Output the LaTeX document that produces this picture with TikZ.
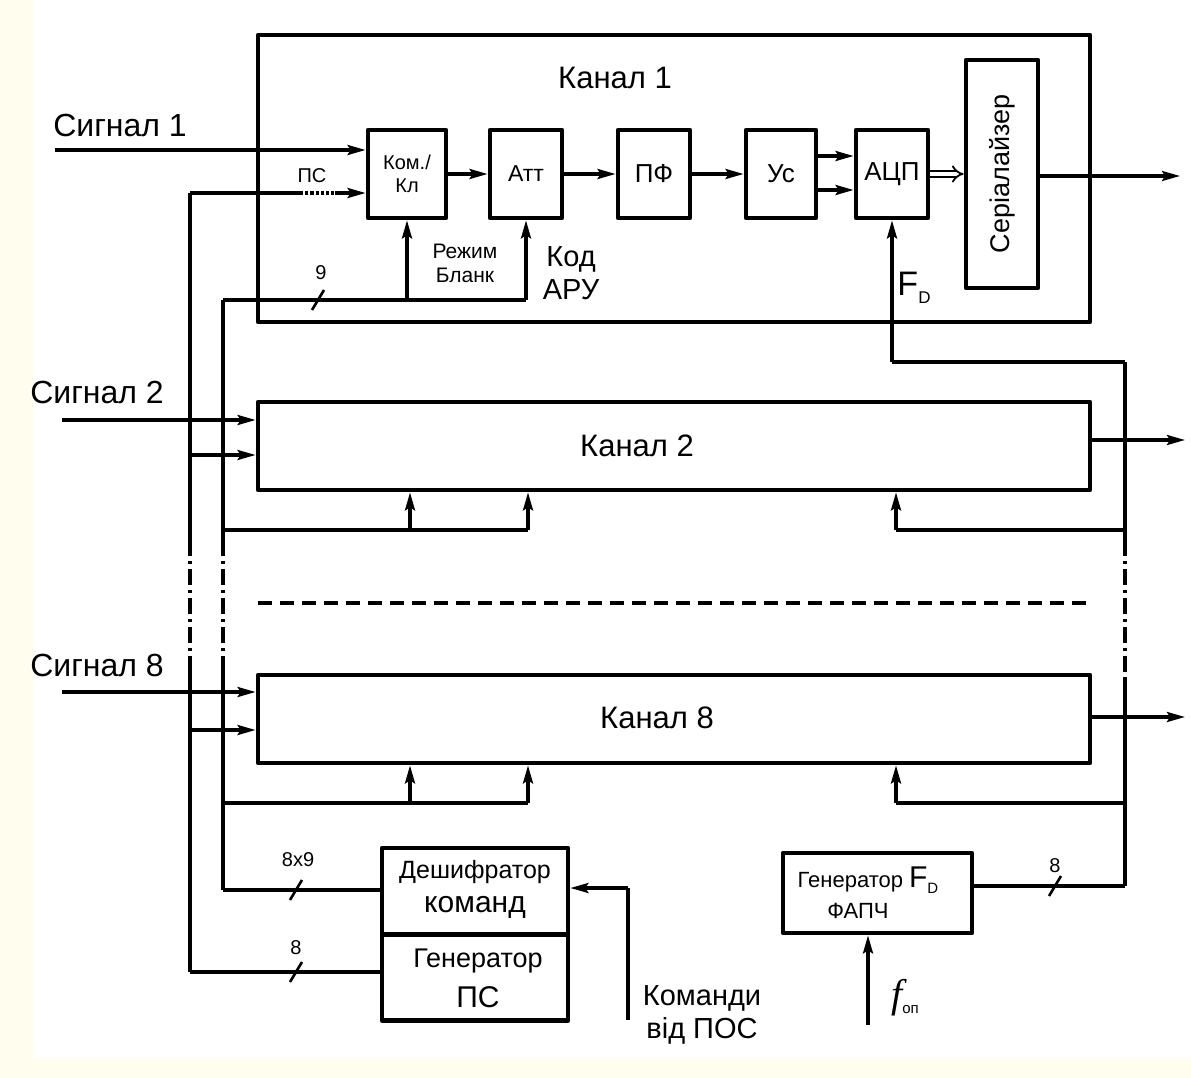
\documentclass[tikz,border=0pt]{standalone}
\usepackage{fontspec}
\setmainfont{Liberation Sans}
\newfontfamily\serifit{Liberation Serif}
\usetikzlibrary{arrows.meta}
\definecolor{tlo}{RGB}{255,253,238}
\newcommand{\fsz}[1]{\fontsize{#1}{1.15\dimexpr #1\relax}\selectfont}
\tikzset{
  blok/.style={draw, line width=4.8pt, inner sep=0pt, align=center},
  zv/.style={line width=3.2pt},
  strl/.style={zv, -{Stealth[length=18pt,width=10pt,inset=3pt]}},
  shtrih/.style={line width=2.6pt},
  shp/.style={zv, dash pattern=on 16pt off 5pt on 3pt off 5pt},
  napys/.style={inner sep=0pt, align=center}
}
\begin{document}
\begin{tikzpicture}[x=1pt, y=-1pt, line join=round, >=stealth]
\fill[tlo] (0,0) rectangle (1191,1078);
\fill[white] (33,0) rectangle (1191,1058);
\useasboundingbox (0,0) rectangle (1191,1078);
% kanal 1
\node[blok, minimum width=832, minimum height=287] (kan1) at (674,178.5) {};
\node[napys, font=\fsz{31pt}] at (615,78) {Канал 1};
\node[blok, minimum width=78, minimum height=88, font=\fsz{20pt}] (kom) at (407,174) {Ком./\\Кл};
\node[blok, minimum width=72, minimum height=88, font=\fsz{23pt}] (att) at (526,174) {Атт};
\node[blok, minimum width=72, minimum height=88, font=\fsz{26pt}] (pf) at (654,174) {ПФ};
\node[blok, minimum width=70, minimum height=88, font=\fsz{26pt}] (us) at (781,174) {Ус};
\node[blok, minimum width=72, minimum height=88, font=\fsz{26pt}] (acp) at (892,174) {АЦП};
\node[blok, minimum width=72, minimum height=228] (ser) at (1002,174) {};
\node[napys, rotate=90, font=\fsz{27pt}] at (ser.center) {Серіалайзер};
\draw[strl] (kom.east) -- (att.west);
\draw[strl] (att.east) -- (pf.west);
\draw[strl] (pf.east) -- (us.west);
\draw[strl] (us.east |- 0,156) -- (acp.west |- 0,156);
\draw[strl] (us.east |- 0,190) -- (acp.west |- 0,190);
\draw[line width=1.8pt, double distance=4pt, -{Implies}] (acp.east) -- (ser.west);
\coordinate (vyh1) at (1180,176);
\draw[strl] (ser.east |- vyh1) -- (vyh1);
% vhody kanalu 1
\coordinate (sg1) at (55,150);
\draw[strl] (sg1) -- (kom.west |- sg1);
\node[napys, font=\fsz{32pt}] at (120,125) {Сигнал 1};
\coordinate (ps) at (190,193);
\coordinate (ps1) at (300,193);
\coordinate (ps2) at (335,193);
\draw[zv] (ps) -- (ps1);
\draw[zv, dotted] (ps1) -- (ps2);
\draw[strl] (ps2) -- (kom.west |- ps2);
\node[napys, font=\fsz{20pt}] at (312,176) {ПС};
% keruvannia kanalu 1
\coordinate (k1) at (223,300);
\coordinate (k1a) at (kom.south |- k1);
\coordinate (k1b) at (att.south |- k1);
\draw[zv] (k1) -- (k1b);
\draw[strl] (k1a) -- (kom.south);
\draw[strl] (k1b) -- (att.south);
\draw[shtrih] (312,310) -- (324,290);
\node[napys, font=\fsz{20pt}] at (321,273) {9};
\node[napys, font=\fsz{21pt}] at (465,263) {Режим\\Бланк};
\node[napys, font=\fsz{29pt}] at (571,273) {Код\\АРУ};
% F_D
\coordinate (fd1) at (1125,362);
\coordinate (fd2) at (acp.south |- fd1);
\draw[zv] (fd1) -- (fd2);
\draw[strl] (fd2) -- (acp.south);
\node[napys, font=\fsz{34pt}] at (914,288) {F\raisebox{-8pt}{\fsz{17pt}D}};
% kanal 2
\node[blok, minimum width=832, minimum height=88] (kan2) at (674,446) {};
\node[napys, font=\fsz{31pt}] at (637,446) {Канал 2};
\coordinate (sg2) at (62,420);
\draw[strl] (sg2) -- (kan2.west |- sg2);
\node[napys, font=\fsz{32pt}] at (97,392) {Сигнал 2};
\coordinate (ps2k) at (190,455);
\draw[strl] (ps2k) -- (kan2.west |- ps2k);
\coordinate (k2) at (223,530);
\coordinate (k2a) at (410,530);
\coordinate (k2b) at (528,530);
\draw[zv] (k2) -- (k2b);
\draw[strl] (k2a) -- (kan2.south -| k2a);
\draw[strl] (k2b) -- (kan2.south -| k2b);
\coordinate (f2) at (1125,530);
\coordinate (f2a) at (896,530);
\draw[zv] (f2) -- (f2a);
\draw[strl] (f2a) -- (kan2.south -| f2a);
\coordinate (vyh2) at (1185,440);
\draw[strl] (kan2.east |- vyh2) -- (vyh2);
% propushcheni kanaly
\draw[line width=4pt, dash pattern=on 14pt off 8pt] (258,603) -- (1090,603);
% kanal 8
\node[blok, minimum width=832, minimum height=88] (kan8) at (674,719) {};
\node[napys, font=\fsz{31pt}] at (657,718) {Канал 8};
\coordinate (sg8) at (62,692);
\draw[strl] (sg8) -- (kan8.west |- sg8);
\node[napys, font=\fsz{32pt}] at (97,665) {Сигнал 8};
\coordinate (ps8k) at (190,730);
\draw[strl] (ps8k) -- (kan8.west |- ps8k);
\coordinate (k8) at (223,803);
\coordinate (k8a) at (410,803);
\coordinate (k8b) at (528,803);
\draw[zv] (k8) -- (k8b);
\draw[strl] (k8a) -- (kan8.south -| k8a);
\draw[strl] (k8b) -- (kan8.south -| k8b);
\coordinate (f8) at (1125,803);
\coordinate (f8a) at (896,803);
\draw[zv] (f8) -- (f8a);
\draw[strl] (f8a) -- (kan8.south -| f8a);
\coordinate (vyh8) at (1185,717);
\draw[strl] (kan8.east |- vyh8) -- (vyh8);
% deshyfrator i generatory
\node[blok, minimum width=186, minimum height=87] (desh) at (475,891.5) {};
\node[napys, font=\fsz{25pt}] at (475,872) {Дешифратор};
\node[napys, font=\fsz{30pt}] at (475,907) {команд};
\node[blok, minimum width=186, minimum height=86] (gen) at (475,977.5) {};
\node[napys, font=\fsz{27pt}] at (478,961) {Генератор};
\node[napys, font=\fsz{30pt}] at (478,997) {ПС};
\node[blok, minimum width=189, minimum height=80] (fapch) at (877.5,893) {};
\node[napys, font=\fsz{22pt}] at (868,880) {Генератор {\fsz{30pt}F}\raisebox{-6pt}{\fsz{15pt}D}};
\node[napys, font=\fsz{22pt}] at (858,911) {ФАПЧ};
% shyny
\coordinate (kd) at (223,890);
\coordinate (pg) at (190,972);
\draw[zv] (k1) -- (223,540);
\draw[shp] (223,540) -- (223,668);
\draw[zv] (223,668) -- (kd);
\draw[zv] (ps) -- (190,540);
\draw[shp] (190,540) -- (190,668);
\draw[zv] (190,668) -- (pg);
\draw[zv] (fd1) -- (1125,540);
\draw[shp] (1125,540) -- (1125,680);
\coordinate (gf) at (1125,886);
\draw[zv] (1125,680) -- (gf);
\draw[zv] (kd) -- (desh.west |- kd);
\draw[shtrih] (290,900) -- (302,880);
\node[napys, font=\fsz{20pt}] at (298,860) {8x9};
\draw[zv] (pg) -- (gen.west |- pg);
\draw[shtrih] (290,982) -- (302,962);
\node[napys, font=\fsz{20pt}] at (296,948) {8};
\draw[zv] (fapch.east |- gf) -- (gf);
\draw[shtrih] (1049,896) -- (1061,876);
\node[napys, font=\fsz{20pt}] at (1055,866) {8};
% komandy
\coordinate (kpos) at (628,1020);
\coordinate (kpos1) at (628,888);
\draw[zv] (kpos) -- (kpos1);
\draw[strl] (kpos1) -- (desh.east |- kpos1);
\node[napys, font=\fsz{29pt}] at (702,1015) {Команди\\від ПОС};
\coordinate (fop) at (868,1025);
\draw[strl] (fop) -- (fapch.south -| fop);
\node[napys] at (905,998) {{\serifit\itshape\fsz{40pt}f}\raisebox{-6pt}{\fsz{15pt}оп}};
\end{tikzpicture}
\end{document}
